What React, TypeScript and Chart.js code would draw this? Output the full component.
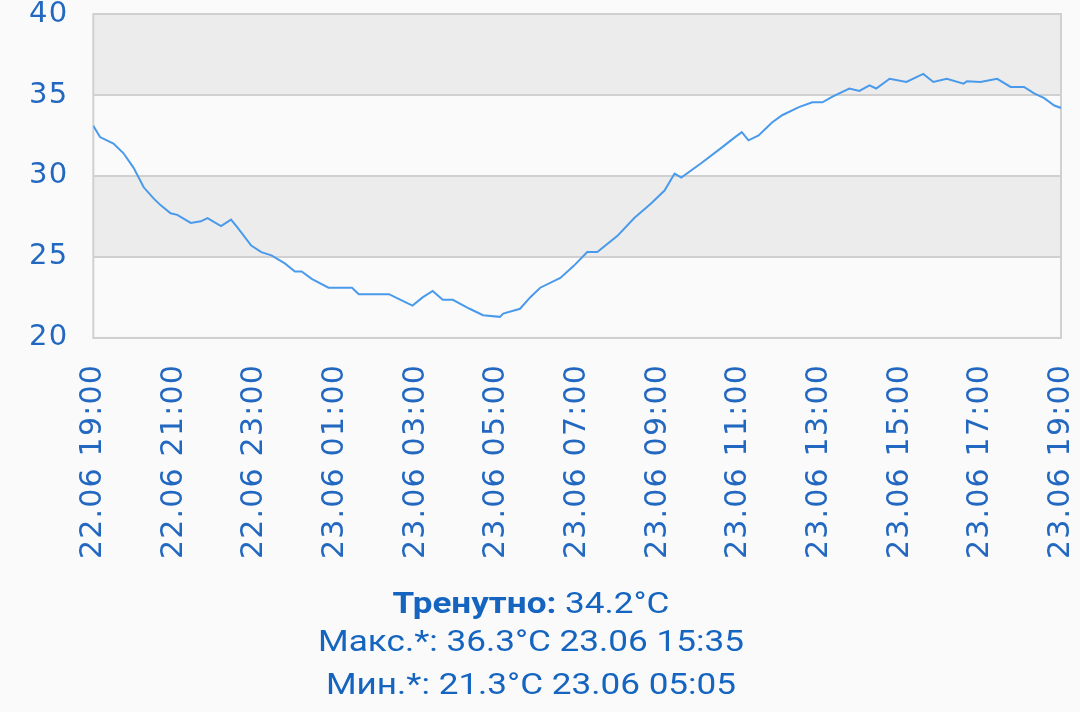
import React, { useEffect, useRef } from "react";
import { Chart, registerables } from "chart.js";

Chart.register(...registerables);

// minutes after 22.06 19:00
const times = [
  0, 10, 30, 45, 60, 75, 90, 100, 115, 125, 145, 160, 170, 190, 205, 215, 235, 250, 265, 285,
  300, 310, 325, 350, 385, 395, 440, 455, 475, 490, 505, 520, 535, 560, 580, 605, 610, 635, 650,
  665, 695, 715, 735, 750, 780, 805, 830, 850, 865, 875, 905, 935, 955, 965, 975, 990, 1010,
  1025, 1050, 1070, 1085, 1100, 1125, 1140, 1155, 1165, 1185, 1210, 1235, 1250, 1270, 1295,
  1300, 1320, 1345, 1365, 1385, 1400, 1415, 1430, 1440,
];
const temps = [
  33.1, 32.4, 32.0, 31.4, 30.5, 29.3, 28.6, 28.2, 27.7, 27.6, 27.1, 27.2, 27.4, 26.9, 27.3, 26.8,
  25.7, 25.3, 25.1, 24.6, 24.1, 24.1, 23.65, 23.1, 23.1, 22.7, 22.7, 22.4, 22.0, 22.5, 22.9,
  22.35, 22.35, 21.8, 21.4, 21.3, 21.5, 21.8, 22.5, 23.1, 23.7, 24.45, 25.3, 25.3, 26.3, 27.4,
  28.3, 29.1, 30.15, 29.9, 30.8, 31.75, 32.4, 32.7, 32.2, 32.5, 33.3, 33.75, 34.25, 34.55,
  34.55, 34.9, 35.4, 35.25, 35.6, 35.4, 36.0, 35.8, 36.3, 35.8, 36.0, 35.7, 35.85, 35.8, 36.0,
  35.5, 35.5, 35.1, 34.8, 34.35, 34.2,
];
const xTickLabels = [
  "22.06 19:00", "22.06 21:00", "22.06 23:00", "23.06 01:00", "23.06 03:00", "23.06 05:00",
  "23.06 07:00", "23.06 09:00", "23.06 11:00", "23.06 13:00", "23.06 15:00", "23.06 17:00",
  "23.06 19:00",
];
const yTicks = [20, 25, 30, 35, 40];
const bands = [
  [35, 40],
  [25, 30],
];
const currentLabel = "Тренутно:";
const currentText = "34.2°C";
const maxText = "Макс.*: 36.3°C 23.06 15:35";
const minText = "Мин.*: 21.3°C 23.06 05:05";

const BLUE = "#2368c0";
const AXIS_FONT = "'DejaVu Sans', sans-serif";

const spacingPlugin = {
  id: "spacing",
  beforeUpdate(chart: any) {
    chart.ctx.letterSpacing = "1.2px";
  },
  beforeDraw(chart: any) {
    chart.ctx.letterSpacing = "1.2px";
  },
};

const bandPlugin = {
  id: "bands",
  beforeDatasetsDraw(chart: any) {
    const { ctx, chartArea, scales } = chart;
    const y = scales.y;
    ctx.save();
    ctx.fillStyle = "#ececec";
    for (const [a, b] of bands) {
      const y1 = y.getPixelForValue(b);
      const y2 = y.getPixelForValue(a);
      ctx.fillRect(chartArea.left, y1, chartArea.right - chartArea.left, y2 - y1);
    }
    ctx.strokeStyle = "#d0d0d0";
    ctx.lineWidth = 2;
    for (const t of yTicks) {
      const p = Math.round(y.getPixelForValue(t));
      ctx.beginPath();
      ctx.moveTo(chartArea.left, p);
      ctx.lineTo(chartArea.right, p);
      ctx.stroke();
    }
    ctx.strokeRect(chartArea.left, chartArea.top, chartArea.right - chartArea.left, chartArea.bottom - chartArea.top);
    ctx.restore();
  },
};

export default function App() {
  const ref = useRef<HTMLCanvasElement>(null);
  useEffect(() => {
    const chart = new Chart(ref.current!, {
      type: "line",
      data: {
        datasets: [
          {
            data: times.map((t, i) => ({ x: t, y: temps[i] })),
            borderColor: "#4a9aec",
            borderWidth: 2,
            pointRadius: 0,
            tension: 0,
            fill: false,
          },
        ],
      },
      plugins: [spacingPlugin, bandPlugin],
      options: {
        animation: false,
        responsive: false,
        maintainAspectRatio: false,
        layout: { padding: { left: 4, right: 19, top: 14, bottom: 5 } },
        plugins: { legend: { display: false }, tooltip: { enabled: false } },
        scales: {
          x: {
            type: "linear",
            min: 0,
            max: 1440,
            grid: { display: false, drawTicks: false },
            border: { display: false },
            afterFit: (s: any) => {
              s.paddingLeft = 0;
              s.paddingRight = 0;
            },
            ticks: {
              stepSize: 120,
              autoSkip: false,
              minRotation: 90,
              maxRotation: 90,
              padding: 26,
              color: BLUE,
              font: { family: AXIS_FONT, size: 30 },
              callback: (v: any) => xTickLabels[Math.round(Number(v) / 120)] ?? "",
            },
          },
          y: {
            min: 20,
            max: 40,
            grid: { display: false, drawTicks: false },
            border: { display: false },
            afterFit: (s: any) => {
              s.paddingTop = 0;
              s.paddingBottom = 0;
            },
            ticks: {
              stepSize: 5,
              padding: 25,
              color: BLUE,
              font: { family: AXIS_FONT, size: 29 },
            },
          },
        },
      },
    });
    return () => chart.destroy();
  }, []);

  const lineStyle: React.CSSProperties = {
    position: "absolute",
    left: 0,
    width: 1062,
    textAlign: "center",
    fontFamily: "Roboto",
    fontSize: 30,
    color: "#1565c0",
    lineHeight: "40px",
    transform: "scaleX(1.17)",
    transformOrigin: "531px 50%",
  };

  return (
    <div style={{ position: "fixed", left: 0, top: 0, width: 1080, height: 712, background: "#fafafa", overflow: "hidden" }}>
      <canvas ref={ref} width={1080} height={590} style={{ position: "absolute", left: 0, top: 0, width: 1080, height: 590 }} />
      <div style={{ ...lineStyle, top: 583 }}>
        <b>{currentLabel}</b> {currentText}
      </div>
      <div style={{ ...lineStyle, top: 621 }}>{maxText}</div>
      <div style={{ ...lineStyle, top: 664 }}>{minText}</div>
    </div>
  );
}
